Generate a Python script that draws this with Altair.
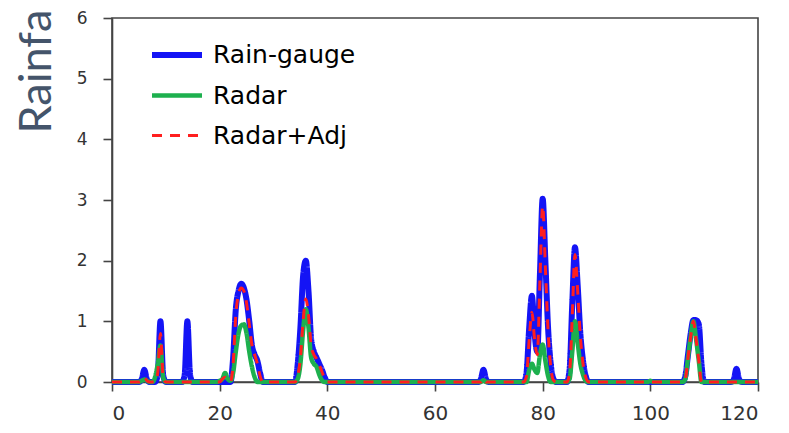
import altair as alt
import pandas as pd
import numpy as np

# Non-zero readings (time, rainfall); every other half-step of the record is 0
gauge_x = [5.5, 6, 6.5, 8.5, 9, 9.5, 13.5, 14, 14.5,
           22.5, 23, 23.5, 24, 24.5, 25, 25.5, 26, 26.5, 27, 27.5,
           34.5, 35, 35.5, 36, 36.5, 37, 37.5, 38, 38.5, 39, 39.5,
           68.5, 69, 69.5,
           77, 77.5, 78, 78.5, 79, 79.5, 80, 80.5, 81, 81.5, 82,
           85, 85.5, 86, 86.5, 87, 87.5, 88,
           106.5, 107, 107.5, 108, 108.5, 109, 109.5,
           115.5, 116, 116.5]
gauge_y = [0.04, 0.2, 0.04, 0.12, 1.0, 0.12, 0.12, 1.0, 0.12,
           0.4, 1.2, 1.5, 1.62, 1.55, 1.35, 1.0, 0.6, 0.45, 0.35, 0.15,
           0.3, 0.9, 1.75, 2.0, 1.5, 0.7, 0.5, 0.4, 0.3, 0.2, 0.08,
           0.04, 0.2, 0.04,
           0.15, 0.9, 1.42, 0.8, 0.5, 1.8, 3.02, 2.0, 0.9, 0.3, 0.05,
           0.2, 1.3, 2.22, 1.6, 0.8, 0.35, 0.1,
           0.1, 0.45, 0.8, 1.02, 1.02, 0.95, 0.3,
           0.04, 0.22, 0.04]

radar_x = [5.5, 6, 6.5, 8, 8.5, 9, 9.5,
           20, 20.5, 21, 21.5, 22, 22.5, 23, 23.5, 24, 24.5, 25, 25.5, 26, 26.5,
           34.5, 35, 35.5, 36, 36.5, 37, 37.5, 38, 38.5, 39,
           69,
           77.5, 78, 78.5, 79, 79.5, 80, 80.5, 81,
           85, 85.5, 86, 86.5, 87, 87.5, 88,
           100,
           106.5, 107, 107.5, 108, 108.5, 109]
radar_y = [0.02, 0.04, 0.02, 0.08, 0.3, 0.6, 0.08,
           0.02, 0.05, 0.15, 0.05, 0.02, 0.15, 0.5, 0.8, 0.93, 0.95, 0.8, 0.5, 0.25, 0.08,
           0.05, 0.3, 0.85, 1.2, 0.9, 0.4, 0.3, 0.25, 0.12, 0.03,
           0.03,
           0.2, 0.3, 0.2, 0.15, 0.45, 0.62, 0.35, 0.1,
           0.05, 0.5, 1.0, 0.65, 0.3, 0.12, 0.02,
           0.02,
           0.05, 0.4, 0.75, 1.0, 0.7, 0.35]

adj_x = [5.5, 6, 6.5, 8.5, 9, 9.5,
         20.5, 21, 21.5,
         22.5, 23, 23.5, 24, 24.5, 25, 25.5, 26, 26.5, 27, 27.5,
         34.5, 35, 35.5, 36, 36.5, 37, 37.5, 38, 38.5, 39, 39.5,
         69,
         77, 77.5, 78, 78.5, 79, 79.5, 80, 80.5, 81, 81.5, 82,
         85, 85.5, 86, 86.5, 87, 87.5, 88,
         106.5, 107, 107.5, 108, 108.5, 109]
adj_y = [0.02, 0.08, 0.02, 0.15, 0.8, 0.08,
         0.05, 0.08, 0.03,
         0.3, 1.1, 1.45, 1.55, 1.5, 1.3, 0.95, 0.6, 0.45, 0.3, 0.1,
         0.1, 0.4, 1.0, 1.37, 1.1, 0.6, 0.45, 0.38, 0.28, 0.17, 0.05,
         0.06,
         0.1, 0.7, 1.15, 0.7, 0.45, 1.7, 2.9, 1.9, 0.85, 0.25, 0.03,
         0.15, 1.1, 2.1, 1.5, 0.75, 0.3, 0.08,
         0.05, 0.4, 0.75, 1.0, 0.7, 0.35]

series_names = ["Rain-gauge", "Radar", "Radar+Adj"]
series_colors = ["#1414F5", "#1DB04E", "#FF1F1F"]
series_widths = [6, 3, 4]
series_dash = [[1, 0], [1, 0], [10, 8]]
x_ticks = [0, 20, 40, 60, 80, 100, 120]
y_ticks = [0, 1, 2, 3, 4, 5, 6]

grid = np.arange(0, 120.5, 0.5)
rows = []
for name, xs, ys in zip(series_names, [gauge_x, radar_x, adj_x], [gauge_y, radar_y, adj_y]):
    lookup = dict(zip(xs, ys))
    for t in grid:
        rows.append({"t": float(t), "rain": lookup.get(float(t), 0.0), "series": name})
df = pd.DataFrame(rows)

base = alt.Chart(df).mark_line(interpolate="monotone").encode(
    x=alt.X("t:Q", scale=alt.Scale(domain=[0, 120], nice=False),
            axis=alt.Axis(values=x_ticks, title=None, labelFontSize=20, labelPadding=12)),
    y=alt.Y("rain:Q", scale=alt.Scale(domain=[0, 6], nice=False),
            axis=alt.Axis(values=y_ticks, title="Rainfa", titleX=-62, titleY=115,
                          titleAngle=270, titleAlign="left", titleBaseline="alphabetic",
                          titleFont="Lato", titleFontSize=45, titleFontWeight="normal",
                          titleColor="#44546A", labelFontSize=17, labelPadding=16)),
    color=alt.Color("series:N", scale=alt.Scale(domain=series_names, range=series_colors),
                    legend=alt.Legend(title=None)),
    strokeDash=alt.StrokeDash("series:N", scale=alt.Scale(domain=series_names, range=series_dash),
                              legend=alt.Legend(title=None)),
    strokeWidth=alt.StrokeWidth("series:N", scale=alt.Scale(domain=series_names, range=series_widths),
                                legend=alt.Legend(title=None)),
)

layers = [base.transform_filter(alt.datum.series == s) for s in series_names]

chart = alt.layer(*layers).properties(
    width=646, height=364,
    autosize=alt.AutoSizeParams(type="none"),
    padding={"left": 104, "top": 10, "right": 20, "bottom": 50},
).configure_view(
    stroke="#444", strokeWidth=1.6
).configure_axis(
    grid=False, domainColor="#444", domainWidth=1.6, tickColor="#444", tickWidth=1.6,
    tickSize=9, labelFont="DejaVu Sans", labelColor="#333",
).configure_legend(
    orient="none", legendX=37, legendY=9, padding=0,
    symbolType="stroke", symbolSize=2500, labelFont="DejaVu Sans", labelFontSize=25,
    labelColor="#000", labelOffset=8, rowPadding=-1, labelLimit=400,
)

chart.save("out.html", embed_options={"renderer": "svg", "actions": False})
